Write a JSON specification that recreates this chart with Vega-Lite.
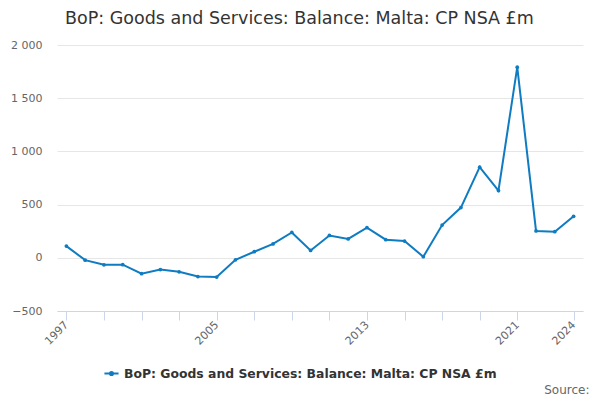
{
  "$schema": "https://vega.github.io/schema/vega-lite/v6.json",
  "width": 526,
  "height": 266,
  "autosize": "none",
  "padding": {"left": 57, "top": 45, "right": 17, "bottom": 89},
  "background": "white",
  "title": {
    "text": "BoP: Goods and Services: Balance: Malta: CP NSA £m",
    "anchor": "start",
    "frame": "group",
    "dx": 8,
    "offset": 12,
    "font": "DejaVu Sans",
    "fontSize": 17.5,
    "fontWeight": "normal",
    "color": "#333333"
  },
  "data": {
    "values": [
      {"year": 1997, "value": 110, "series": "BoP: Goods and Services: Balance: Malta: CP NSA £m"},
      {"year": 1998, "value": -22, "series": "BoP: Goods and Services: Balance: Malta: CP NSA £m"},
      {"year": 1999, "value": -66, "series": "BoP: Goods and Services: Balance: Malta: CP NSA £m"},
      {"year": 2000, "value": -65, "series": "BoP: Goods and Services: Balance: Malta: CP NSA £m"},
      {"year": 2001, "value": -149, "series": "BoP: Goods and Services: Balance: Malta: CP NSA £m"},
      {"year": 2002, "value": -111, "series": "BoP: Goods and Services: Balance: Malta: CP NSA £m"},
      {"year": 2003, "value": -132, "series": "BoP: Goods and Services: Balance: Malta: CP NSA £m"},
      {"year": 2004, "value": -176, "series": "BoP: Goods and Services: Balance: Malta: CP NSA £m"},
      {"year": 2005, "value": -181, "series": "BoP: Goods and Services: Balance: Malta: CP NSA £m"},
      {"year": 2006, "value": -19, "series": "BoP: Goods and Services: Balance: Malta: CP NSA £m"},
      {"year": 2007, "value": 57, "series": "BoP: Goods and Services: Balance: Malta: CP NSA £m"},
      {"year": 2008, "value": 130, "series": "BoP: Goods and Services: Balance: Malta: CP NSA £m"},
      {"year": 2009, "value": 238, "series": "BoP: Goods and Services: Balance: Malta: CP NSA £m"},
      {"year": 2010, "value": 69, "series": "BoP: Goods and Services: Balance: Malta: CP NSA £m"},
      {"year": 2011, "value": 210, "series": "BoP: Goods and Services: Balance: Malta: CP NSA £m"},
      {"year": 2012, "value": 177, "series": "BoP: Goods and Services: Balance: Malta: CP NSA £m"},
      {"year": 2013, "value": 283, "series": "BoP: Goods and Services: Balance: Malta: CP NSA £m"},
      {"year": 2014, "value": 170, "series": "BoP: Goods and Services: Balance: Malta: CP NSA £m"},
      {"year": 2015, "value": 157, "series": "BoP: Goods and Services: Balance: Malta: CP NSA £m"},
      {"year": 2016, "value": 10, "series": "BoP: Goods and Services: Balance: Malta: CP NSA £m"},
      {"year": 2017, "value": 308, "series": "BoP: Goods and Services: Balance: Malta: CP NSA £m"},
      {"year": 2018, "value": 472, "series": "BoP: Goods and Services: Balance: Malta: CP NSA £m"},
      {"year": 2019, "value": 852, "series": "BoP: Goods and Services: Balance: Malta: CP NSA £m"},
      {"year": 2020, "value": 632, "series": "BoP: Goods and Services: Balance: Malta: CP NSA £m"},
      {"year": 2021, "value": 1792, "series": "BoP: Goods and Services: Balance: Malta: CP NSA £m"},
      {"year": 2022, "value": 252, "series": "BoP: Goods and Services: Balance: Malta: CP NSA £m"},
      {"year": 2023, "value": 245, "series": "BoP: Goods and Services: Balance: Malta: CP NSA £m"},
      {"year": 2024, "value": 390, "series": "BoP: Goods and Services: Balance: Malta: CP NSA £m"}
    ]
  },
  "mark": {
    "type": "line",
    "strokeWidth": 2,
    "point": {"filled": true, "size": 14}
  },
  "encoding": {
    "x": {
      "field": "year",
      "type": "quantitative",
      "scale": {"domain": [1996.5, 2024.5], "nice": false, "zero": false},
      "axis": {
        "values": [1997, 1999, 2001, 2003, 2005, 2007, 2009, 2011, 2013, 2015, 2017, 2019, 2021, 2024],
        "labelExpr": "indexof([1997, 2005, 2013, 2021, 2024], datum.value) >= 0 ? toString(datum.value) : ''",
        "grid": false,
        "labelAngle": -45,
        "labelAlign": "right",
        "labelBaseline": "middle",
        "labelPadding": 3,
        "labelFlush": false,
        "labelOverlap": false,
        "labelColor": "#666666",
        "labelFont": "DejaVu Sans",
        "labelFontSize": 11,
        "domainColor": "#ccd6eb",
        "tickColor": "#ccd6eb",
        "tickSize": 9,
        "title": "Source:",
        "titleFont": "DejaVu Sans",
        "titleFontSize": 12,
        "titleFontWeight": "normal",
        "titleColor": "#666666",
        "titleAnchor": "end",
        "titleAlign": "right",
        "titleBaseline": "bottom",
        "titleX": 532,
        "titleY": 85
      }
    },
    "y": {
      "field": "value",
      "type": "quantitative",
      "scale": {"domain": [-500, 2000], "nice": false},
      "axis": {
        "values": [-500, 0, 500, 1000, 1500, 2000],
        "labelExpr": "replace(format(datum.value, ','), ',', ' ')",
        "title": null,
        "domain": false,
        "ticks": false,
        "labelPadding": 15,
        "labelColor": "#666666",
        "labelFont": "DejaVu Sans",
        "labelFontSize": 11,
        "gridColor": "#e6e6e6"
      }
    },
    "color": {
      "field": "series",
      "type": "nominal",
      "scale": {"range": ["#0f7cc1"]},
      "legend": {
        "title": null,
        "orient": "none",
        "legendX": 46,
        "legendY": 320,
        "symbolType": "M-1,0H1M-0.22,0A0.22,0.22 0 1,1 0.22,0A0.22,0.22 0 1,1 -0.22,0",
        "symbolSize": 200,
        "symbolStrokeWidth": 2,
        "labelFont": "DejaVu Sans",
        "labelFontSize": 12.4,
        "labelFontWeight": "bold",
        "labelColor": "#333333",
        "labelLimit": 600
      }
    }
  },
  "config": {
    "view": {"stroke": null}
  }
}
